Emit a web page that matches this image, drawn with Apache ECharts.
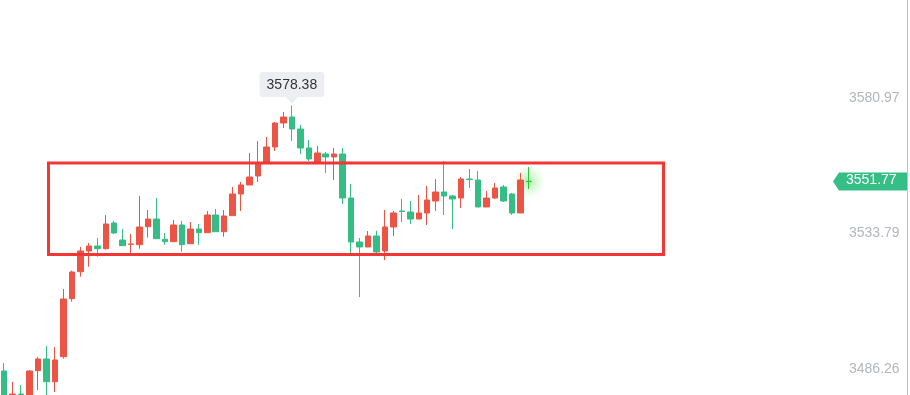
<!DOCTYPE html>
<html>
<head>
<meta charset="utf-8">
<script src="https://cdn.jsdelivr.net/npm/echarts@6/dist/echarts.min.js"></script>
<style>html,body{margin:0;padding:0;background:#fff;}#c{width:910px;height:395px;}</style>
</head>
<body>
<div id="c"></div>
<script>
// ---- data ----
var totalSlots = 100;
var opens = [3485.56,3477.35,3477.52,3476.13,3485.67,3489.76,3481.82,3490.56,3510.83,3520.27,
3527.50,3529.25,3528.30,3537.28,3531.34,3529.84,3529.70,3535.99,3538.68,3531.59,
3530.75,3536.59,3530.05,3535.19,3533.90,3540.08,3534.24,3539.84,3547.42,3550.57,
3553.71,3558.36,3563.85,3572.23,3574.33,3570.14,3563.50,3558.36,3561.40,3560.35,
3561.40,3546.02,3530.64,3528.90,3532.74,3527.50,3535.89,3541.48,3541.13,3538.68,
3540.78,3544.97,3548.12,3546.72,3546.02,3552.66,3552.31,3542.88,3546.02,3549.87,
3547.42,3540.78,3551.86];
var closes = [3475.43,3477.52,3477.35,3485.56,3489.76,3481.82,3489.41,3510.72,3520.16,3527.50,
3529.25,3528.30,3536.94,3533.79,3529.35,3529.95,3535.89,3538.68,3531.80,3530.75,
3536.59,3529.70,3535.19,3533.90,3540.08,3534.24,3539.73,3547.42,3550.57,3553.36,
3557.90,3563.85,3572.23,3574.33,3570.14,3563.50,3559.65,3561.75,3560.35,3561.40,
3546.02,3530.64,3528.90,3532.74,3527.15,3535.89,3540.78,3541.30,3538.68,3540.78,
3545.32,3548.12,3546.72,3545.67,3552.66,3552.52,3542.88,3546.02,3549.52,3544.97,
3540.78,3552.31,3551.77];
var lows = [3474.38,3476.13,3476.13,3475.78,3478.92,3476.82,3478.22,3489.86,3509.78,3518.52,
3522.01,3525.51,3528.02,3533.44,3529.35,3526.45,3528.30,3532.15,3531.80,3529.70,
3530.75,3527.26,3530.05,3529.70,3533.90,3534.24,3532.50,3539.84,3541.48,3550.57,
3551.61,3558.25,3562.45,3570.49,3565.94,3561.40,3558.95,3558.36,3554.76,3552.31,
3543.93,3526.80,3511.42,3528.90,3526.80,3524.35,3532.74,3537.63,3536.94,3538.68,
3536.59,3541.48,3540.08,3535.19,3542.53,3549.52,3542.88,3542.88,3545.67,3544.62,
3540.08,3540.78,3549.17];
var highs = [3488.36,3481.72,3480.67,3485.91,3490.45,3494.30,3493.95,3514.22,3520.61,3528.90,
3530.30,3532.04,3540.08,3537.98,3535.19,3533.44,3546.72,3541.83,3546.02,3533.79,
3538.33,3537.98,3537.63,3536.94,3541.48,3542.18,3541.83,3549.87,3551.61,3561.75,
3565.94,3567.34,3572.58,3576.08,3578.38,3571.53,3566.29,3564.19,3562.10,3563.50,
3563.50,3550.91,3532.04,3534.49,3534.49,3541.83,3541.48,3545.67,3544.97,3547.07,
3550.22,3552.66,3558.95,3547.07,3553.36,3556.16,3555.46,3548.47,3551.26,3550.57,
3547.77,3554.76,3556.86];
var tickLabels = [3486.26, 3533.79, 3580.97];
var yMin = 3477.17, yMax = 3615.22;

// ---- build ----
var UP = '#ec5546', DOWN = '#34bd84', LIVE = '#2cc83a';
var categories = [];
for (var i = 0; i < totalSlots; i++) categories.push(String(i + 1));
var n = opens.length;
var candleData = [];
var maxIdx = 0;
for (var i = 0; i < n; i++) {
  var item = { value: [opens[i], closes[i], lows[i], highs[i]] };
  if (i === n - 1) item.itemStyle = { color0: LIVE, borderColor0: LIVE, color: LIVE, borderColor: LIVE };
  candleData.push(item);
  if (highs[i] > highs[maxIdx]) maxIdx = i;
}
var lastClose = closes[n - 1];

var chart = echarts.init(document.getElementById('c'), null, { renderer: 'canvas' });
var option = {
  animation: false,
  backgroundColor: '#ffffff',
  grid: { left: -0.7, top: 0, bottom: 0, width: 846.7, containLabel: false },
  xAxis: {
    type: 'category', data: categories, boundaryGap: true,
    axisLine: { show: false }, axisTick: { show: false }, axisLabel: { show: false }, splitLine: { show: false }
  },
  yAxis: [{
    type: 'value', position: 'right', min: yMin, max: yMax, scale: true,
    axisLine: { show: false }, axisTick: { show: false }, splitLine: { show: false },
    axisLabel: {
      show: true, customValues: tickLabels, margin: 3, color: '#b3b5bf',
      fontSize: 14, fontFamily: 'Liberation Sans, Arial, sans-serif',
      formatter: function (v) { return v.toFixed(2); }
    }
  }, {
    type: 'value', position: 'right', offset: 61, min: yMin, max: yMax,
    axisLine: { show: true, lineStyle: { color: '#f2b48c', width: 1 } },
    axisTick: { show: false }, axisLabel: { show: false }, splitLine: { show: false }
  }],
  series: [{
    type: 'candlestick',
    data: candleData,
    barWidth: 6,
    clip: true,
    itemStyle: { color: UP, color0: DOWN, borderColor: UP, borderColor0: DOWN, borderWidth: 1 },
    markPoint: {
      silent: true,
      symbol: 'path://M0,0 L10,0 L5,6 Z',
      symbolSize: [12, 7],
      symbolOffset: [0, -5],
      itemStyle: { color: '#eceef1' },
      label: {
        show: true, position: 'top', distance: 0,
        backgroundColor: '#eceef1', borderRadius: 3, padding: [6, 7, 5, 7],
        color: '#333', fontSize: 14, fontFamily: 'Liberation Sans, Arial, sans-serif',
        formatter: function (p) { return p.value.toFixed(2); }
      },
      data: [{ coord: [maxIdx, highs[maxIdx]], value: highs[maxIdx] }]
    }
  }, {
    type: 'scatter',
    silent: true,
    z: 1,
    symbolSize: 34,
    itemStyle: {
      color: { type: 'radial', x: 0.5, y: 0.5, r: 0.5, colorStops: [
        { offset: 0, color: 'rgba(70,210,60,0.55)' },
        { offset: 0.45, color: 'rgba(90,220,80,0.25)' },
        { offset: 1, color: 'rgba(120,230,110,0)' }] }
    },
    data: [[n - 1, lastClose]]
  }],
  graphic: []
};
chart.setOption(option);

// price tag + annotation box
var py = chart.convertToPixel({ yAxisIndex: 0 }, lastClose);
var gRight = -0.7 + 846.7;
var tipX = gRight - 13;
chart.setOption({
  graphic: [
    {
      type: 'polygon', z: 100,
      shape: { points: [[tipX, py], [tipX + 6, py - 9], [gRight + 61, py - 9], [gRight + 61, py + 9], [tipX + 6, py + 9]] },
      style: { fill: '#35be85' }
    },
    {
      type: 'text', z: 101, left: gRight, top: py - 8,
      style: { text: lastClose.toFixed(2), fill: '#fff', fontSize: 14, fontFamily: 'Liberation Sans, Arial, sans-serif' }
    },
    {
      type: 'rect', z: 90,
      shape: { x: 48.5, y: 163, width: 615, height: 91.5 },
      style: { fill: 'none', stroke: '#f23535', lineWidth: 3 }
    }
  ]
});
</script>
</body>
</html>
